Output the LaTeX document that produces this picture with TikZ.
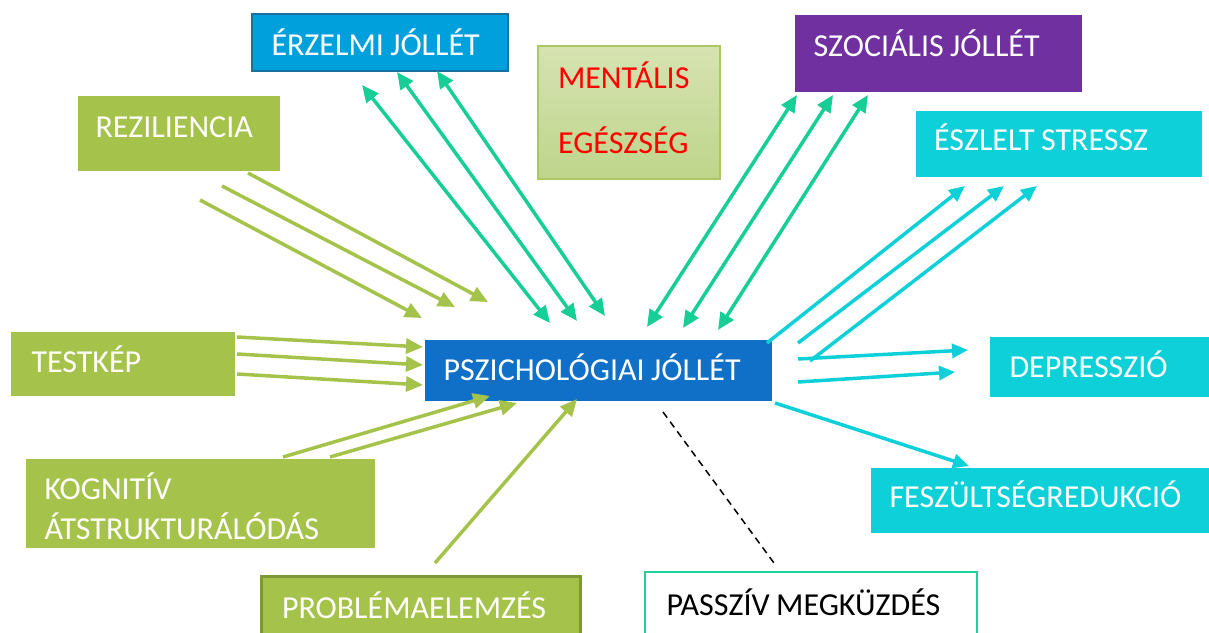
\documentclass[tikz,border=0pt]{standalone}
\usepackage{fontspec}
\setmainfont{Carlito}
\usetikzlibrary{arrows.meta}
\newcommand\wgap{\hspace{0.2em}}
\definecolor{gr}{RGB}{165,195,75}
\definecolor{grdark}{RGB}{125,152,55}
\definecolor{menttop}{RGB}{214,227,178}
\definecolor{mentbot}{RGB}{190,213,138}
\definecolor{mentborder}{RGB}{169,200,100}
\definecolor{teal}{RGB}{22,206,150}
\definecolor{cy}{RGB}{14,208,216}
\definecolor{bl}{RGB}{16,111,198}
\definecolor{erzfill}{RGB}{0,160,220}
\definecolor{erzborder}{RGB}{26,113,160}
\definecolor{purp}{RGB}{112,48,160}
\definecolor{passborder}{RGB}{30,210,160}
\definecolor{mentred}{RGB}{255,0,0}
\begin{document}
\begin{tikzpicture}[x=1pt,y=-1pt,
  box/.style={rectangle, anchor=north west, inner ysep=0pt, outer sep=0pt,
    align=left, text=white, font=\fontsize{32}{37}\selectfont},
  garrow/.style={draw=gr, line width=3.5pt, -{Triangle[length=17pt,width=15pt]}},
  tarrow/.style={draw=teal, line width=3.5pt, {Triangle[length=17pt,width=15pt]}-{Triangle[length=17pt,width=15pt]}},
  carrow/.style={draw=cy, line width=3.5pt, -{Triangle[length=16pt,width=14pt]}},
  dashline/.style={draw=black, line width=1.5pt, dash pattern=on 7pt off 5pt}]
\clip (0,0) rectangle (1209,632);
\useasboundingbox (0,0) rectangle (1209,632);

% boxes
\node[box, fill=erzfill, draw=erzborder, line width=2.5pt, minimum width=256pt, minimum height=57pt,
  inner xsep=19.5pt, text width=217pt, text height=26pt, text depth=0pt] (erz) at (252,14) {\mbox{ÉRZELMI\wgap JÓLLÉT}};
\node[box, top color=menttop, bottom color=mentbot, draw=mentborder, line width=1.5pt,
  minimum width=182pt, minimum height=133pt, inner xsep=20pt, text width=142pt,
  text height=0pt, text depth=48pt, text=mentred] (ment) at (538,46) {MENTÁLIS\\[27.5pt]EGÉSZSÉG};
\node[box, fill=purp, minimum width=287pt, minimum height=77pt, inner xsep=18.5pt, text width=250pt,
  text height=5pt, text depth=0pt] (szoc) at (795,15) {\mbox{SZOCIÁLIS\wgap JÓLLÉT}};
\node[box, fill=cy, minimum width=286pt, minimum height=66pt, inner xsep=18pt, text width=250pt,
  text height=12pt, text depth=0pt] (esz) at (916,111) {\mbox{ÉSZLELT\wgap STRESSZ}};
\node[box, fill=gr, minimum width=202pt, minimum height=75pt, inner xsep=17.5pt, text width=167pt,
  text height=7pt, text depth=0pt] (rez) at (78,96) {REZILIENCIA};
\node[box, fill=gr, minimum width=224pt, minimum height=64pt, inner xsep=20.5pt, text width=183pt,
  text height=16pt, text depth=0pt] (test) at (11,332) {TESTKÉP};
\node[box, fill=gr, minimum width=349pt, minimum height=89pt, inner xsep=18.5pt, text width=312pt,
  text height=0pt, text depth=8pt, font=\fontsize{32}{39.5}\selectfont] (kog) at (26,459) {KOGNITÍV\\ÁTSTRUKTURÁLÓDÁS};
\node[box, fill=gr, draw=grdark, line width=3pt, minimum width=319pt, minimum height=64pt,
  inner xsep=21pt, text width=277pt, text height=20pt, text depth=0pt] (prob) at (261,576) {PROBLÉMAELEMZÉS};
\node[box, fill=bl, minimum width=347pt, minimum height=61pt, inner xsep=18.5pt, text width=310pt,
  text height=19pt, text depth=0pt] (psz) at (425,340) {\mbox{PSZICHOLÓGIAI\wgap JÓLLÉT}};
\node[box, fill=cy, minimum width=219pt, minimum height=60pt, inner xsep=19.5pt, text width=180pt,
  text height=20pt, text depth=0pt] (dep) at (990,337) {DEPRESSZIÓ};
\node[box, fill=cy, minimum width=338pt, minimum height=65pt, inner xsep=18.5pt, text width=301pt,
  text height=14pt, text depth=0pt] (fesz) at (871,468) {FESZÜLTSÉGREDUKCIÓ};
\node[box, fill=white, draw=passborder, line width=2pt, minimum width=332pt, minimum height=68pt,
  inner xsep=21.5pt, text width=289pt, text height=18pt, text depth=0pt, text=black] (pass) at (645,572) {\mbox{PASSZÍV\wgap MEGKÜZDÉS}};

% connector end points
\coordinate (r1s) at (200,200); \coordinate (r1e) at (422,318);
\coordinate (r2s) at (222,186); \coordinate (r2e) at (455,307);
\coordinate (r3s) at (248,173); \coordinate (r3e) at (488,302);
\coordinate (t1s) at (237,337); \coordinate (t1e) at (423,347);
\coordinate (t2s) at (237,354); \coordinate (t2e) at (423,365);
\coordinate (t3s) at (237,374); \coordinate (t3e) at (423,385);
\coordinate (k1s) at (283,457); \coordinate (k1e) at (490,396);
\coordinate (k2s) at (330,457); \coordinate (k2e) at (517,403);
\coordinate (p1s) at (435,563); \coordinate (p1e) at (577,399);
\coordinate (e1a) at (550,323); \coordinate (e1b) at (362,85);
\coordinate (e2a) at (577,321); \coordinate (e2b) at (397,72);
\coordinate (e3a) at (605,316); \coordinate (e3b) at (437,71);
\coordinate (s1a) at (647,327); \coordinate (s1b) at (797,95);
\coordinate (s2a) at (683,328); \coordinate (s2b) at (833,95);
\coordinate (s3a) at (718,330); \coordinate (s3b) at (868,95);
\coordinate (z1s) at (767,343); \coordinate (z1e) at (965,186);
\coordinate (z2s) at (798,343); \coordinate (z2e) at (1004,186);
\coordinate (z3s) at (810,361); \coordinate (z3e) at (1037,186);
\coordinate (d1s) at (798,359); \coordinate (d1e) at (968,350);
\coordinate (d2s) at (798,382); \coordinate (d2e) at (955,372);
\coordinate (f1s) at (775,403); \coordinate (f1e) at (969,466);
\coordinate (pa1) at (663,412); \coordinate (pa2) at (774,563);

% green arrows into PSZICHOLÓGIAI JÓLLÉT
\draw[garrow] (r1s) -- (r1e);
\draw[garrow] (r2s) -- (r2e);
\draw[garrow] (r3s) -- (r3e);
\draw[garrow] (t1s) -- (t1e);
\draw[garrow] (t2s) -- (t2e);
\draw[garrow] (t3s) -- (t3e);
\draw[garrow] (k1s) -- (k1e);
\draw[garrow] (k2s) -- (k2e);
\draw[garrow] (p1s) -- (p1e);
% teal double arrows
\draw[tarrow] (e1a) -- (e1b);
\draw[tarrow] (e2a) -- (e2b);
\draw[tarrow] (e3a) -- (e3b);
\draw[tarrow] (s1a) -- (s1b);
\draw[tarrow] (s2a) -- (s2b);
\draw[tarrow] (s3a) -- (s3b);
% cyan arrows out
\draw[carrow] (z1s) -- (z1e);
\draw[carrow] (z2s) -- (z2e);
\draw[carrow] (z3s) -- (z3e);
\draw[carrow] (d1s) -- (d1e);
\draw[carrow] (d2s) -- (d2e);
\draw[carrow] (f1s) -- (f1e);
% dashed line
\draw[dashline] (pa1) -- (pa2);
\end{tikzpicture}
\end{document}
